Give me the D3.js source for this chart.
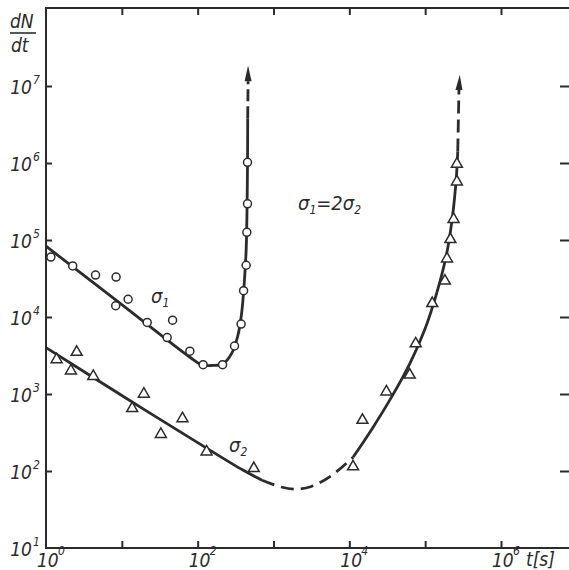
<!DOCTYPE html>
<html>
<head>
<meta charset="utf-8">
<script src="https://cdn.jsdelivr.net/npm/d3@7"></script>
<style>
  body { margin: 0; background: #fff; }
  svg { display: block; }
  text { font-family: "DejaVu Sans Condensed", "Liberation Sans Narrow", "Liberation Sans", sans-serif; font-style: italic; fill: #2b2b2b; }
</style>
</head>
<body>
<div id="chart"></div>
<script>
// measured points, [t in s, dN/dt]
const sigma1Points = [
  [1.16, 6.0e4], [2.25, 4.6e4], [4.5, 3.5e4], [8.4, 3.3e4], [8.3, 1.4e4],
  [12.1, 1.7e4], [21.6, 8.5e3], [46.7, 9.1e3], [39.6, 5.4e3], [78.9, 3.6e3],
  [118, 2.4e3], [213, 2.4e3], [306, 4.2e3], [374, 8.1e3], [403, 2.2e4],
  [436, 4.7e4], [445, 1.26e5], [454, 2.95e5], [454, 1.02e6]
];
const sigma2Points = [
  [1.38, 2.8e3], [2.54, 3.5e3], [2.13, 2.0e3], [4.2, 1.7e3], [13.7, 650],
  [19.5, 1.0e3], [63, 480], [32.7, 300], [131, 178], [550, 108],
  [1.12e4, 114], [1.49e4, 457], [3.08e4, 1.07e3], [6.25e4, 1.77e3], [7.5e4, 4.5e3],
  [1.24e5, 1.5e4], [1.82e5, 2.94e4], [1.94e5, 5.7e4], [2.15e5, 1.02e5], [2.37e5, 1.86e5],
  [2.62e5, 5.7e5], [2.62e5, 9.7e5]
];

// fitted curves
const sigma1Fit = [
  [1, 8.3e4], [10, 1.45e4], [79, 3.0e3], [112, 2.4e3], [158, 2.35e3], [214, 2.45e3],
  [282, 3.4e3], [339, 5.75e3], [380, 1.12e4], [412, 2.8e4], [437, 7.9e4],
  [449, 3.2e5], [455, 1.26e6], [457, 3.8e6]
];
const sigma1Dash = [[457, 3.8e6], [462, 1.15e7]];
const sigma1Arrow = [462, 1.85e7];

const sigma2Fit = [[1, 4.0e3], [10, 955], [100, 234], [400, 102], [708, 76]];
const sigma2GapDash = [[708, 76], [1260, 62], [2000, 58], [3160, 63], [5620, 85], [1.12e4, 151]];
const sigma2Rise = [
  [1.12e4, 151], [2.0e4, 355], [3.55e4, 890], [6.3e4, 2.5e3], [1.0e5, 7.1e3],
  [1.41e5, 2.0e4], [1.9e5, 6.3e4], [2.29e5, 2.0e5], [2.57e5, 6.3e5], [2.69e5, 1.41e6]
];
const sigma2Dash = [[2.69e5, 1.41e6], [2.79e5, 8.9e6]];
const sigma2Arrow = [2.86e5, 1.4e7];

const xTicks = [1e1, 1e2, 1e3, 1e4, 1e5, 1e6];
const xLabels = [[0, 1], [2, 1e2], [4, 1e4], [6, 1e6]];
const yTicks = [1e2, 1e3, 1e4, 1e5, 1e6, 1e7];
const yLabels = [[1, 1e1], [2, 1e2], [3, 1e3], [4, 1e4], [5, 1e5], [6, 1e6], [7, 1e7]];

const width = 569;
const height = 570;
const ink = "#2b2b2b";

const svg = d3.select("#chart").append("svg")
  .attr("width", width)
  .attr("height", height);

const x = d3.scaleLog().domain([1, 1e6]).range([46, 501]);
const y = d3.scaleLog().domain([10, 1e7]).range([548, 86]);
const frameL = x(1), frameB = y(10), frameT = 8, frameR = 571;

// frame
svg.append("path")
  .attr("d", `M${frameR},${frameT}H${frameL}V${frameB}H${frameR}`)
  .attr("fill", "none").attr("stroke", ink).attr("stroke-width", 2);

// ticks, all pointing inward
const noLabel = () => "";
const tickStyle = (g) => {
  g.select(".domain").remove();
  g.selectAll("line").attr("stroke", ink).attr("stroke-width", 2);
};
svg.append("g").attr("transform", `translate(0,${frameB})`)
  .call(d3.axisTop(x).tickValues(xTicks).tickSize(7).tickFormat(noLabel)).call(tickStyle);
svg.append("g").attr("transform", `translate(0,${frameT})`)
  .call(d3.axisBottom(x).tickValues(xTicks).tickSize(7).tickFormat(noLabel)).call(tickStyle);
svg.append("g").attr("transform", `translate(${frameL},0)`)
  .call(d3.axisRight(y).tickValues(yTicks).tickSize(6).tickFormat(noLabel)).call(tickStyle);
svg.append("g").attr("transform", `translate(${frameR - 2},0)`)
  .call(d3.axisLeft(y).tickValues(yTicks).tickSize(9).tickFormat(noLabel)).call(tickStyle);

// tick labels
svg.append("g").selectAll("text").data(yLabels).join("text")
  .attr("x", 32).attr("y", (d) => y(d[1]) + 8)
  .attr("text-anchor", "end").style("font-size", "19px").text("10");
svg.append("g").selectAll("text").data(yLabels).join("text")
  .attr("x", 33).attr("y", (d) => y(d[1]) - 2)
  .style("font-size", "12px").text((d) => d[0]);

svg.append("g").selectAll("text").data(xLabels).join("text")
  .attr("x", (d) => x(d[1]) - 9).attr("y", 567)
  .style("font-size", "19px").text("10");
svg.append("g").selectAll("text").data(xLabels).join("text")
  .attr("x", (d) => x(d[1]) + 12).attr("y", 555)
  .style("font-size", "12px").text((d) => d[0]);

svg.append("text").attr("x", 526).attr("y", 566).style("font-size", "19px").text("t[s]");

// y axis title
svg.append("text").attr("x", 10).attr("y", 28).style("font-size", "19px").text("dN");
svg.append("line").attr("x1", 10).attr("x2", 36).attr("y1", 33).attr("y2", 33)
  .attr("stroke", ink).attr("stroke-width", 1.6);
svg.append("text").attr("x", 11).attr("y", 52).style("font-size", "19px").text("dt");

// curves
const line = d3.line().x((d) => x(d[0])).y((d) => y(d[1])).curve(d3.curveCatmullRom.alpha(0.5));
const drawCurve = (pts, dash) => svg.append("path").datum(pts)
  .attr("d", line).attr("fill", "none").attr("stroke", ink)
  .attr("stroke-width", 2.8).attr("stroke-dasharray", dash || null);

drawCurve(sigma1Fit);
drawCurve(sigma1Dash, "12,5");
drawCurve(sigma2Fit);
drawCurve(sigma2GapDash, "13,7");
drawCurve(sigma2Rise);
drawCurve(sigma2Dash, "13,6");

const arrow = (from, tip) => {
  const bx = x(from[0]), by = y(from[1]), tx = x(tip[0]), ty = y(tip[1]);
  svg.append("path")
    .attr("d", `M${tx},${ty}L${bx - 3.5},${by}L${bx + 3.5},${by}Z`)
    .attr("fill", ink);
};
arrow(sigma1Dash[1], sigma1Arrow);
arrow(sigma2Dash[1], sigma2Arrow);

// markers
svg.append("g").selectAll("circle").data(sigma1Points).join("circle")
  .attr("cx", (d) => x(d[0])).attr("cy", (d) => y(d[1])).attr("r", 4)
  .attr("fill", "#fff").attr("stroke", ink).attr("stroke-width", 1.5);

const tri = d3.symbol().type(d3.symbolTriangle).size(52);
svg.append("g").selectAll("path").data(sigma2Points).join("path")
  .attr("transform", (d) => `translate(${x(d[0])},${y(d[1])})`)
  .attr("d", tri).attr("fill", "#fff").attr("stroke", ink).attr("stroke-width", 1.5);

// annotations
const sigmaLabel = (px, py, sub) => {
  const t = svg.append("text").attr("x", px).attr("y", py).style("font-size", "20px");
  t.append("tspan").text("σ");
  t.append("tspan").attr("dy", 4).style("font-size", "12px").text(sub);
  return t;
};
sigmaLabel(151, 303, "1");
sigmaLabel(229, 452, "2");
const eq = svg.append("text").attr("x", 298).attr("y", 210).style("font-size", "20px");
eq.append("tspan").text("σ");
eq.append("tspan").attr("dy", 4).style("font-size", "12px").text("1");
eq.append("tspan").attr("dy", -4).text("=2σ");
eq.append("tspan").attr("dy", 4).style("font-size", "12px").text("2");
</script>
</body>
</html>
